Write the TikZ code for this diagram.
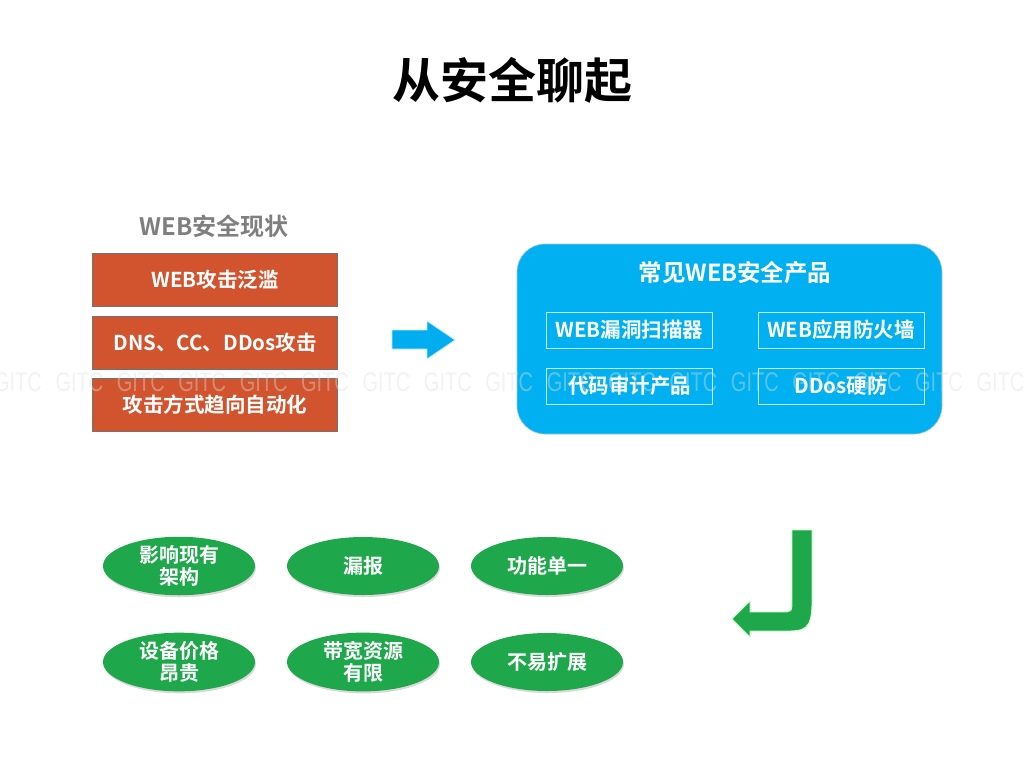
\documentclass[tikz,border=0pt]{standalone}
\usepackage{fontspec}
\setmainfont{Noto Sans CJK SC}[BoldFont={* Bold}]
\newfontfamily\wmfont{Liberation Sans}
\usetikzlibrary{shapes.geometric,shadows}
\definecolor{redc}{HTML}{D2542E}
\definecolor{bluec}{HTML}{00B0F0}
\definecolor{arrowblue}{HTML}{00AEEF}
\definecolor{greenc}{HTML}{1FA84B}
\definecolor{titlegray}{HTML}{7F7F7F}
\begin{document}
\begin{tikzpicture}[x=1pt,y=-1pt,
  redbox/.style={draw=black!55, line width=0.6pt, fill=redc, minimum width=245pt, minimum height=53pt,
    text=white, font=\bfseries\fontsize{20.5}{24}\selectfont, inner sep=0pt},
  bigblue/.style={fill=bluec, draw=cyan!40!gray!60, line width=0.6pt, rounded corners=28pt,
    minimum width=425pt, minimum height=190pt, inner sep=0pt},
  prodbox/.style={draw=white!75!bluec, line width=0.7pt, minimum width=166pt, minimum height=36pt,
    text=white, font=\bfseries\fontsize{20.5}{23}\selectfont, inner sep=0pt},
  greenell/.style={ellipse, fill=greenc, minimum width=152pt, minimum height=58pt, inner sep=0pt,
    text=white, font=\bfseries\fontsize{20}{22.5}\selectfont, align=center,
    drop shadow={shadow xshift=1pt, shadow yshift=-2pt, opacity=0.25, fill=black!60}},
  wm/.style={font=\wmfont\fontsize{27}{27}\selectfont, text=gray!25, opacity=0.4, xscale=0.74,
    anchor=west, inner sep=0pt}
]
\useasboundingbox (0,0) rectangle (1024,768);

% title
\node[font=\bfseries\fontsize{48}{52}\selectfont] (title) at (512,80) {从安全聊起};

% left column
\node[font=\bfseries\fontsize{24}{27}\selectfont, text=titlegray] (status) at (214,226) {WEB安全现状};
\node[redbox] (r1) at (215,279.5) {WEB攻击泛滥};
\node[redbox] (r2) at (215,343) {DNS、CC、DDos攻击};
\node[redbox] (r3) at (215,405) {攻击方式趋向自动化};

% blue arrow
\draw[fill=arrowblue, draw=cyan!25, line width=0.8pt, line join=miter]
  (392,330) -- (427,330) -- (427,321) -- (455,340) -- (427,359) -- (427,349) -- (392,349) -- cycle;

% products
\node[bigblue] (prod) at (729.5,339) {};
\node[text=white, font=\bfseries\fontsize{23.5}{27}\selectfont] (prodtitle) at (735,273) {常见WEB安全产品};
\node[prodbox] (p1) at (629.5,330) {WEB漏洞扫描器};
\node[prodbox] (p2) at (841,330) {WEB应用防火墙};
\node[prodbox] (p3) at (629.5,386) {代码审计产品};
\node[prodbox] (p4) at (841,386) {DDos硬防};

% green J arrow
\draw[fill=greenc, draw=green!25, line width=0.8pt, line join=miter]
  (792,530) -- (812,530) -- (812,600)
  .. controls (812,631) and (805,631) .. (782,631)
  -- (750,631) -- (750,637) -- (732,619) -- (750,601) -- (750,612)
  -- (782,612) .. controls (792,612) .. (792,600) -- cycle;

% green ellipses
\node[greenell] (e1) at (179,566) {影响现有\\架构};
\node[greenell] (e2) at (363,566) {漏报};
\node[greenell] (e3) at (547,566) {功能单一};
\node[greenell] (e4) at (179,662) {设备价格\\昂贵};
\node[greenell] (e5) at (363,662) {带宽资源\\有限};
\node[greenell] (e6) at (547,662) {不易扩展};

% watermark
\foreach \i in {0,...,16} {
  \node[wm] (wm\i) at ({-6+61.4*\i},382) {GITC};
}
\end{tikzpicture}
\end{document}
